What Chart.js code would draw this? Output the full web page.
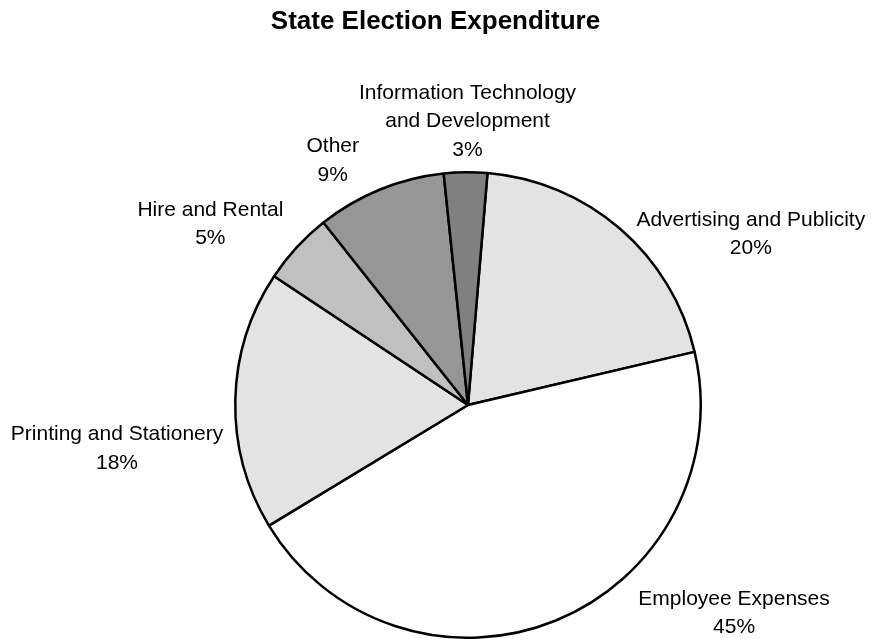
<!DOCTYPE html>
<html>
<head>
<meta charset="utf-8">
<title>State Election Expenditure</title>
<script src="https://cdn.jsdelivr.net/npm/chart.js@4/dist/chart.umd.min.js"></script>
<style>
  html, body { margin: 0; padding: 0; background: #fff; }
  #wrap { width: 871px; height: 639px; }
</style>
</head>
<body>
<div id="wrap"><canvas id="pie" width="871" height="639"></canvas></div>
<script>
const categories = [
  ["Advertising and Publicity"],
  ["Employee Expenses"],
  ["Printing and Stationery"],
  ["Hire and Rental"],
  ["Other"],
  ["Information Technology", "and Development"]
];
const shares = [20, 45, 18, 5, 9, 3];
const sliceColors = ["#e3e3e3", "#ffffff", "#e3e3e3", "#c0c0c0", "#969696", "#808080"];

// where each label block sits, relative to the pie centre, in units of the radius
const labelOffsets = [
  [1.215, -0.733],
  [1.143, 0.896],
  [-1.508, 0.188],
  [-1.107, -0.776],
  [-0.581, -1.049],
  [-0.002, -1.218]
];

const FONT = "Arial, 'Liberation Sans', Helvetica, sans-serif";

const labelsPlugin = {
  id: "pieText",
  afterDraw(chart) {
    const ctx = chart.ctx;
    ctx.save();
    // title
    ctx.fillStyle = "#000";
    ctx.font = "bold 26px " + FONT;
    ctx.textAlign = "center";
    ctx.textBaseline = "alphabetic";
    ctx.fillText("State Election Expenditure", chart.width / 2, 29);

    // slice labels: name lines followed by the percentage
    const total = shares.reduce((a, b) => a + b, 0);
    const arcs = chart.getDatasetMeta(0).data;
    ctx.font = "21px " + FONT;
    ctx.textBaseline = "middle";
    const lineH = 28.3;
    arcs.forEach((arc, i) => {
      const r = arc.outerRadius;
      const cx = arc.x + labelOffsets[i][0] * r;
      const cy = arc.y + labelOffsets[i][1] * r;
      const lines = categories[i].concat([Math.round(shares[i] / total * 100) + "%"]);
      const top = cy - (lines.length - 1) * lineH / 2;
      lines.forEach((t, k) => ctx.fillText(t, cx, top + k * lineH));
    });
    ctx.restore();
  }
};

new Chart(document.getElementById("pie"), {
  type: "pie",
  data: {
    labels: categories.map(c => c.join(" ")),
    datasets: [{
      data: shares,
      backgroundColor: sliceColors,
      borderColor: "#000",
      borderWidth: 2.5
    }]
  },
  options: {
    responsive: false,
    animation: false,
    events: [],
    rotation: 4.8,
    layout: { padding: { left: 228, right: 163, top: 171, bottom: 0 } },
    plugins: {
      legend: { display: false },
      tooltip: { enabled: false },
      title: { display: false }
    }
  },
  plugins: [labelsPlugin]
});
</script>
</body>
</html>
